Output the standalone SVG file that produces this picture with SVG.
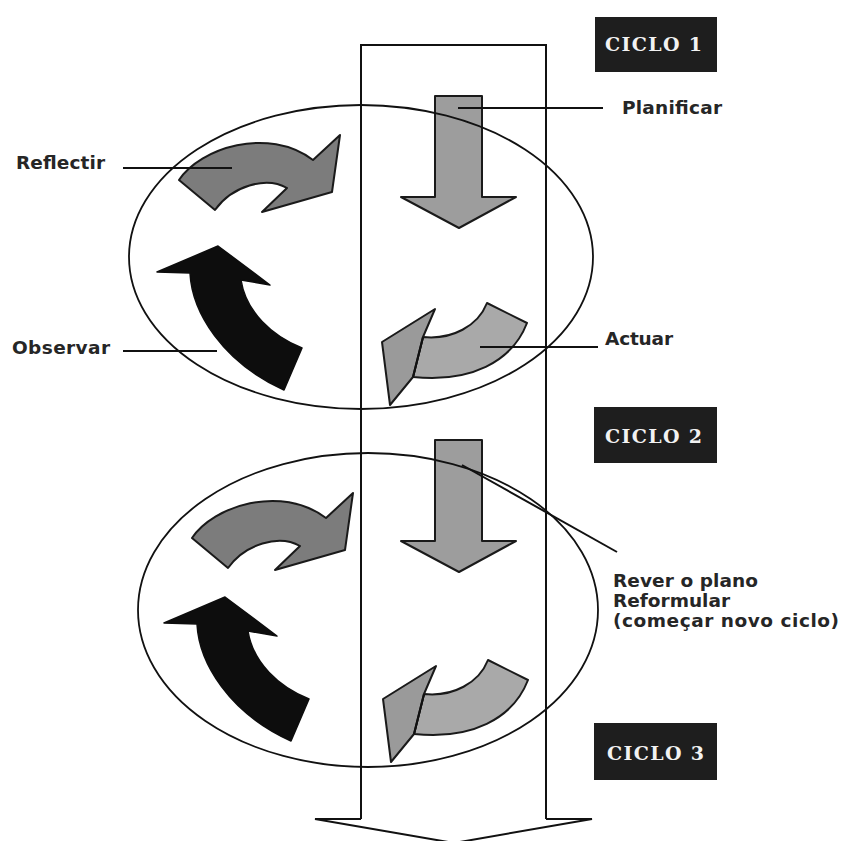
<svg xmlns="http://www.w3.org/2000/svg" width="842" height="841" viewBox="0 0 842 841">
<defs>
<style>
.lbl{font-family:"DejaVu Sans","Liberation Sans",sans-serif;font-weight:bold;font-size:18.5px;fill:#262626}
.cyc{font-family:"DejaVu Serif","Liberation Serif",serif;font-weight:bold;font-size:19px;fill:#f2f2f2}
.box{fill:#1e1e1e}
.ln{stroke:#111;stroke-width:2;fill:none}
.ell{stroke:#111;stroke-width:1.8;fill:none}
.refl{fill:#7c7c7c;stroke:#1a1a1a;stroke-width:2;stroke-linejoin:round}
.obs{fill:#0d0d0d;stroke:#0d0d0d;stroke-width:1.5;stroke-linejoin:round}
.act{fill:#a9a9a9;stroke:#1a1a1a;stroke-width:2;stroke-linejoin:round}
.actHead{fill:#9a9a9a;stroke:#1a1a1a;stroke-width:2;stroke-linejoin:round}
.down{fill:#9d9d9d;stroke:#1a1a1a;stroke-width:2;stroke-linejoin:round}
</style>
<path id="reflShape" d="M179,180 C200,148 268,126 313,160 L340,135 L332,192 L262,212 L287,188 C266,176 232,186 215,210 Z"/>
<path id="obsShape" d="M218,246 L157,272 L190,273 C192,312 222,362 284,390 L302,348 C272,336 246,312 241,280 L270,285 Z"/>
<path id="actBody" d="M487,303 L527,323 C512,362 470,383 413,377 L423,337 C452,340 478,326 487,303 Z"/>
<path id="actHeadShape" d="M413,377 L390,405 L382,342 L435,309 L423,337 Z"/>
<path id="downShape" d="M435,96 L482,96 L482,197 L516,197 L459,228 L401,197 L435,197 Z"/>
</defs>
<rect width="842" height="841" fill="#ffffff"/>

<g id="cycle1-arrows">
<g id="reflectir-arrow"><use href="#reflShape" class="refl"/></g>
<g id="observar-arrow"><use href="#obsShape" class="obs"/></g>
<g id="actuar-arrow"><use href="#actBody" class="act"/><use href="#actHeadShape" class="actHead"/><path d="M423,337 L413,377" class="ln" stroke-width="1.5"/></g>
<g id="planificar-arrow"><use href="#downShape" class="down"/></g>
</g>

<g id="cycle2-arrows">
<g id="reflectir-arrow-2" transform="translate(13,358)"><use href="#reflShape" class="refl"/></g>
<g id="observar-arrow-2" transform="translate(7,351)"><use href="#obsShape" class="obs"/></g>
<g id="actuar-arrow-2" transform="translate(1,357)"><use href="#actBody" class="act"/><use href="#actHeadShape" class="actHead"/><path d="M423,337 L413,377" class="ln" stroke-width="1.5"/></g>
<g id="planificar-arrow-2" transform="translate(0,344)"><use href="#downShape" class="down"/></g>
</g>

<g id="ellipse-1"><ellipse cx="361" cy="257" rx="232" ry="152" class="ell"/></g>
<g id="ellipse-2"><ellipse cx="368" cy="610" rx="230" ry="157" class="ell"/></g>

<g id="main-arrow">
<path d="M361,819 L361,45 L546,45 L546,819" class="ln"/>
<path d="M361,819 L315,819 L454,843 L592,819 L546,819" class="ln"/>
</g>

<g id="ciclo-1"><rect x="595" y="17" width="122" height="55" class="box"/><text x="605" y="51" class="cyc" textLength="97" lengthAdjust="spacing">CICLO 1</text></g>
<g id="ciclo-2"><rect x="594" y="407" width="123" height="56" class="box"/><text x="605" y="443" class="cyc" textLength="97" lengthAdjust="spacing">CICLO 2</text></g>
<g id="ciclo-3"><rect x="594" y="723" width="123" height="57" class="box"/><text x="607" y="760" class="cyc" textLength="97" lengthAdjust="spacing">CICLO 3</text></g>

<g id="label-reflectir"><text x="16" y="169" class="lbl" textLength="89">Reflectir</text></g>
<g id="label-observar"><text x="12" y="354" class="lbl" textLength="98">Observar</text></g>
<g id="label-planificar"><text x="622" y="114" class="lbl" textLength="100">Planificar</text></g>
<g id="label-actuar"><text x="605" y="345" class="lbl" textLength="68">Actuar</text></g>
<g id="label-rever">
<text x="613" y="587" class="lbl" textLength="145">Rever o plano</text>
<text x="613" y="607" class="lbl" textLength="117">Reformular</text>
<text x="613" y="627" class="lbl" textLength="226">(começar novo ciclo)</text>
</g>

<g id="connectors">
<line x1="123" y1="168" x2="232" y2="168" class="ln"/>
<line x1="123" y1="351" x2="217" y2="351" class="ln"/>
<line x1="458" y1="108" x2="603" y2="108" class="ln"/>
<line x1="480" y1="347" x2="598" y2="347" class="ln"/>
<line x1="462" y1="465" x2="617" y2="552" class="ln" stroke-width="1.6"/>
</g>
</svg>
